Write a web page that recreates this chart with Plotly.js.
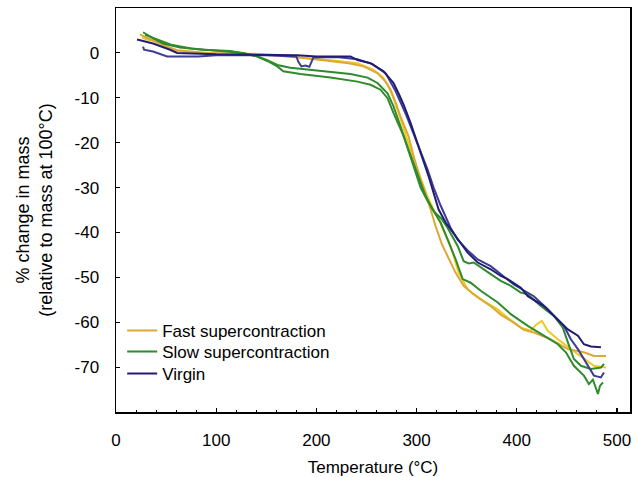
<!DOCTYPE html>
<html>
<head>
<meta charset="utf-8">
<script src="https://cdn.plot.ly/plotly-3.0.1.min.js"></script>
<style>
  html, body { margin: 0; padding: 0; background: #fff; }
  #chart { width: 637px; height: 477px; }
</style>
</head>
<body>
<div id="chart"></div>
<script>
// Fast supercontraction, run 1 (orange) and run 2 (yellow)
const fast1T = [24, 30, 37, 50, 61, 90, 124, 160, 190, 207, 232, 247, 261, 269, 274, 279, 284, 292, 297, 302, 309, 314, 319, 325, 331, 339, 347, 357, 374, 384, 397, 407, 417, 434, 451, 467, 477, 489];
const fast1M = [4.1, 3.4, 2.8, 1.5, 0.6, 0.0, -0.2, -0.6, -1.2, -1.6, -2.3, -3.0, -4.5, -6.4, -8.2, -11.0, -14.2, -18.6, -23.0, -26.7, -31.2, -34.9, -38.6, -42.5, -45.3, -49.0, -51.9, -53.8, -56.4, -58.3, -60.1, -61.7, -62.3, -63.8, -66.0, -66.7, -67.5, -67.5];
const fast2T = [26, 31, 37, 50, 61, 100, 137, 167, 191, 217, 241, 257, 267, 272, 277, 282, 287, 293, 299, 305, 311, 317, 324, 334, 342, 351, 364, 381, 391, 404, 414, 419, 425, 431, 441, 454, 467, 477, 489];
const fast2M = [3.4, 3.0, 2.7, 1.4, 0.4, -0.2, -0.2, -0.5, -1.2, -1.7, -2.3, -3.8, -5.6, -7.5, -10.1, -13.4, -17.0, -21.0, -25.0, -28.5, -32.0, -35.0, -38.0, -43.0, -49.0, -52.7, -54.9, -57.1, -59.0, -61.2, -61.9, -60.6, -59.7, -61.9, -63.8, -66.0, -68.2, -69.7, -70.1];

// Slow supercontraction, two runs (green)
const slow1T = [27, 35, 47, 64, 87, 114, 127, 141, 151, 161, 174, 207, 234, 251, 261, 271, 277, 284, 290, 297, 304, 311, 318, 325, 331, 341, 347, 352, 357, 374, 384, 394, 404, 411, 424, 437, 446, 451, 457, 464, 474, 484, 487];
const slow1M = [4.6, 3.5, 2.1, 1.2, 0.7, 0.4, -0.1, -0.8, -1.6, -2.7, -3.3, -4.0, -4.7, -5.5, -6.7, -9.0, -11.9, -16.4, -20.5, -25.5, -30.0, -33.0, -35.5, -37.0, -39.0, -43.0, -46.4, -46.9, -46.7, -49.3, -50.8, -51.9, -53.4, -53.8, -56.4, -58.6, -61.2, -64.5, -68.2, -69.7, -70.4, -70.1, -69.3];
const slow2T = [29, 40, 55, 75, 100, 127, 141, 151, 161, 167, 184, 214, 241, 254, 264, 271, 277, 282, 287, 292, 299, 304, 309, 316, 324, 331, 339, 346, 354, 364, 381, 394, 411, 427, 441, 449, 457, 467, 472, 476, 479, 481, 483, 486];
const slow2M = [4.0, 3.0, 1.8, 1.0, 0.6, 0.0, -0.8, -1.8, -3.0, -4.1, -4.7, -5.5, -6.4, -7.1, -8.2, -10.1, -13.4, -16.0, -18.5, -21.6, -26.0, -29.0, -31.9, -34.9, -37.8, -41.6, -46.0, -50.4, -51.2, -53.0, -55.6, -58.2, -60.8, -63.0, -64.9, -66.7, -69.7, -71.9, -73.8, -72.8, -75.0, -76.0, -74.2, -73.4];

// Virgin, two runs (navy and lighter blue)
const virgin1T = [21, 29, 37, 54, 61, 100, 150, 181, 200, 234, 241, 254, 267, 277, 283, 287, 294, 301, 307, 312, 317, 322, 329, 341, 351, 361, 374, 384, 391, 404, 411, 427, 441, 451, 461, 467, 474, 484];
const virgin1M = [3.0, 2.6, 2.1, 0.7, 0.0, -0.3, -0.4, -0.5, -0.8, -0.8, -1.6, -2.3, -4.1, -6.7, -9.5, -11.5, -15.6, -20.1, -23.8, -27.5, -31.2, -34.9, -37.8, -41.6, -44.5, -46.7, -48.2, -49.7, -50.4, -52.3, -54.2, -56.4, -59.3, -61.6, -63.0, -64.9, -65.4, -65.6];
const virgin2T = [27, 28, 37, 51, 82, 100, 150, 180, 182, 185, 189, 193, 197, 220, 241, 256, 269, 279, 289, 297, 304, 311, 317, 324, 334, 341, 351, 361, 374, 384, 397, 417, 431, 447, 454, 461, 471, 477, 484, 487];
const virgin2M = [1.4, 0.7, 0.3, -0.8, -0.8, -0.5, -0.5, -0.8, -2.0, -3.0, -2.8, -3.1, -1.0, -0.9, -1.4, -2.5, -4.5, -8.5, -13.5, -18.0, -22.0, -26.0, -30.0, -34.0, -39.0, -41.6, -44.0, -46.0, -47.5, -49.2, -51.6, -54.2, -57.1, -60.8, -63.8, -66.0, -69.7, -71.9, -72.3, -71.2];

const xTickVals = [0, 100, 200, 300, 400, 500];
const yTickVals = [0, -10, -20, -30, -40, -50, -60, -70];

const FONT = 'Arial, "Liberation Sans", Helvetica, sans-serif';

function tr(x, y, color, name, show, lg) {
  return { x: x, y: y, type: 'scatter', mode: 'lines', name: name, legend: lg,
           showlegend: show, line: { color: color, width: 2, shape: 'linear' } };
}

const data = [
  tr(fast2T, fast2M, '#EFCB22', 'Fast supercontraction', false, 'legend'),
  tr(fast1T, fast1M, '#DDA833', 'Fast supercontraction', true, 'legend'),
  tr(slow1T, slow1M, '#2E8A2F', 'Slow supercontraction', false, 'legend2'),
  tr(slow2T, slow2M, '#2F8B2C', 'Slow supercontraction', true, 'legend2'),
  tr(virgin2T, virgin2M, '#3D3D98', 'Virgin', false, 'legend3'),
  tr(virgin1T, virgin1M, '#221C72', 'Virgin', true, 'legend3')
];

function leg(y) {
  return { x: 0.012, y: y, xanchor: 'left', yanchor: 'top',
           bgcolor: 'rgba(0,0,0,0)', borderwidth: 0, itemwidth: 30,
           font: { family: FONT, size: 17, color: '#000' } };
}

const layout = {
  width: 637, height: 477,
  margin: { l: 116, r: 7, t: 8, b: 65 },
  paper_bgcolor: '#fff', plot_bgcolor: '#fff',
  font: { family: FONT, size: 17, color: '#000' },
  showlegend: true,
  legend: leg(0.245),
  legend2: leg(0.193),
  legend3: leg(0.139),
  xaxis: {
    range: [0, 513], tickvals: xTickVals, ticktext: xTickVals.map(String),
    ticks: 'inside', ticklen: 4, tickwidth: 1.2, tickcolor: '#000',
    minor: { dtick: 20, ticks: 'inside', ticklen: 2, tickwidth: 1, tickcolor: '#000' },
    showgrid: false, zeroline: false,
    showline: true, linecolor: '#000', linewidth: 1.5, mirror: true,
    ticklabelstandoff: 12,
    tickfont: { family: FONT, size: 17, color: '#000' },
    title: { text: 'Temperature (°C)', font: { family: FONT, size: 17, color: '#000' }, standoff: 12 }
  },
  yaxis: {
    range: [-80, 10], tickvals: yTickVals, ticktext: yTickVals.map(String),
    ticks: 'inside', ticklen: 4, tickwidth: 1.2, tickcolor: '#000',
    showgrid: false, zeroline: false,
    showline: true, linecolor: '#000', linewidth: 1.5, mirror: true,
    ticklabelstandoff: 12,
    tickfont: { family: FONT, size: 17, color: '#000' },
    title: { text: '% change in mass<br>(relative to mass at 100°C)', font: { family: FONT, size: 18, color: '#000' }, standoff: 17 }
  }
};

Plotly.newPlot('chart', data, layout, { displayModeBar: false, staticPlot: true });
</script>
</body>
</html>
